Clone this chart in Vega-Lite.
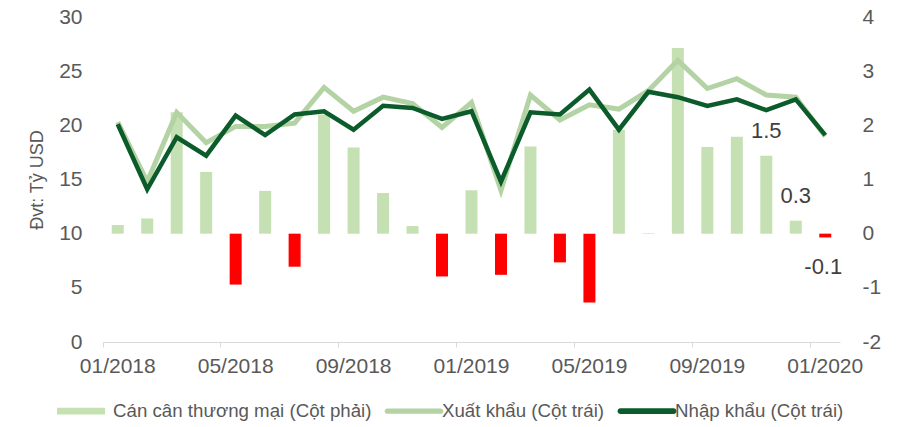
{
  "$schema": "https://vega.github.io/schema/vega-lite/v6.json",
  "width": 737,
  "height": 325,
  "autosize": {"type": "none"},
  "padding": {"left": 103, "top": 17, "right": 57, "bottom": 85},
  "background": "white",
  "config": {
    "font": "Liberation Sans",
    "view": {"stroke": null},
    "axis": {"labelColor": "#595959", "titleColor": "#595959", "labelFont": "Liberation Sans", "titleFont": "Liberation Sans"},
    "legend": {"labelFont": "Liberation Sans"}
  },
  "data": {
    "values": [
      {"month": "2018-01", "ex": 20.3, "im": 20.1, "bal": 0.16},
      {"month": "2018-02", "ex": 14.8, "im": 14.1, "bal": 0.28},
      {"month": "2018-03", "ex": 21.2, "im": 18.9, "bal": 2.24},
      {"month": "2018-04", "ex": 18.4, "im": 17.2, "bal": 1.14},
      {"month": "2018-05", "ex": 19.9, "im": 20.9, "bal": -0.94},
      {"month": "2018-06", "ex": 19.9, "im": 19.1, "bal": 0.79},
      {"month": "2018-07", "ex": 20.2, "im": 21.0, "bal": -0.61},
      {"month": "2018-08", "ex": 23.5, "im": 21.3, "bal": 2.2},
      {"month": "2018-09", "ex": 21.3, "im": 19.6, "bal": 1.59},
      {"month": "2018-10", "ex": 22.6, "im": 21.8, "bal": 0.75},
      {"month": "2018-11", "ex": 22.0, "im": 21.6, "bal": 0.14},
      {"month": "2018-12", "ex": 19.8, "im": 20.6, "bal": -0.79},
      {"month": "2019-01", "ex": 22.1, "im": 21.3, "bal": 0.8},
      {"month": "2019-02", "ex": 14.0, "im": 14.8, "bal": -0.76},
      {"month": "2019-03", "ex": 22.8, "im": 21.2, "bal": 1.61},
      {"month": "2019-04", "ex": 20.5, "im": 21.0, "bal": -0.53},
      {"month": "2019-05", "ex": 21.9, "im": 23.3, "bal": -1.27},
      {"month": "2019-06", "ex": 21.5, "im": 19.6, "bal": 1.92},
      {"month": "2019-07", "ex": 23.2, "im": 23.1, "bal": 0.01},
      {"month": "2019-08", "ex": 26.0, "im": 22.6, "bal": 3.43},
      {"month": "2019-09", "ex": 23.4, "im": 21.8, "bal": 1.6},
      {"month": "2019-10", "ex": 24.3, "im": 22.4, "bal": 1.79},
      {"month": "2019-11", "ex": 22.8, "im": 21.4, "bal": 1.44, "label": "1.5"},
      {"month": "2019-12", "ex": 22.6, "im": 22.4, "bal": 0.24, "label": "0.3"},
      {"month": "2020-01", "ex": 19.0, "im": 19.1, "bal": -0.07, "label": "-0.1"}
    ]
  },
  "encoding": {
    "x": {
      "field": "month",
      "type": "ordinal",
      "scale": {"paddingInner": 0, "paddingOuter": 0},
      "axis": {
        "title": null,
        "values": ["2018-01", "2018-05", "2018-09", "2019-01", "2019-05", "2019-09", "2020-01"],
        "labelExpr": "slice(datum.label,5)+'/'+slice(datum.label,0,4)",
        "labelAngle": 0,
        "bandPosition": 0,
        "labelOffset": 0,
        "labelFontSize": 21,
        "labelPadding": 8,
        "tickSize": 5,
        "tickColor": "#D9D9D9",
        "domainColor": "#D9D9D9",
        "grid": false
      }
    }
  },
  "layer": [
    {
      "encoding": {
        "y": {
          "field": "bal",
          "type": "quantitative",
          "scale": {"domain": [-2, 4], "nice": false, "zero": false},
          "axis": {
            "orient": "right",
            "title": null,
            "values": [-2, -1, 0, 1, 2, 3, 4],
            "labelExpr": "'' + datum.value",
            "labelFontSize": 21,
            "labelPadding": 22,
            "ticks": false,
            "domain": false,
            "grid": false
          }
        }
      },
      "layer": [
        {
          "mark": {"type": "bar", "width": 12},
          "encoding": {
            "y2": {"datum": 0},
            "color": {
              "condition": {"test": "datum.bal < 0", "value": "#FF0000"},
              "value": "#C5E0B3"
            }
          }
        },
        {
          "transform": [{"filter": "isValid(datum.label) && datum.bal >= 0"}],
          "mark": {"type": "text", "fontSize": 22, "color": "#404040", "baseline": "middle", "dy": -25},
          "encoding": {"text": {"field": "label"}}
        },
        {
          "transform": [{"filter": "isValid(datum.label) && datum.bal < 0"}],
          "mark": {"type": "text", "fontSize": 22, "color": "#404040", "baseline": "middle", "dy": 30, "dx": -2},
          "encoding": {"text": {"field": "label"}}
        }
      ]
    },
    {
      "layer": [
        {
          "mark": {"type": "line", "color": "#B4D3A4", "strokeWidth": 5},
          "encoding": {
            "y": {
              "field": "ex",
              "type": "quantitative",
              "scale": {"domain": [0, 30], "nice": false},
              "axis": {
                "title": "Đvt: Tỷ USD",
                "titleFontSize": 18,
                "titleFontWeight": "normal",
                "titlePadding": 12,
                "values": [0, 5, 10, 15, 20, 25, 30],
                "labelFontSize": 21,
                "labelPadding": 21,
                "ticks": false,
                "domain": false,
                "gridColor": "#E6E6E6",
                "gridWidth": 1.3
              }
            }
          }
        },
        {
          "mark": {"type": "line", "color": "#0B5B2B", "strokeWidth": 4.5},
          "encoding": {"y": {"field": "im", "type": "quantitative"}}
        },
        {
          "transform": [{"filter": "datum.bal > 100"}],
          "mark": {"type": "point", "filled": true, "opacity": 1},
          "encoding": {
            "y": {"field": "im", "type": "quantitative"},
            "color": {
              "field": "series",
              "type": "nominal",
              "scale": {
                "domain": ["Cán cân thương mại (Cột phải)", "Xuất khẩu (Cột trái)", "Nhập khẩu (Cột trái)"],
                "range": ["#C5E0B3", "#B4D3A4", "#0B5B2B"]
              },
              "legend": {
                "title": null,
                "orient": "none",
                "legendX": -46,
                "legendY": 366,
                "direction": "horizontal",
                "columns": 3,
                "columnPadding": 12,
                "labelFontSize": 18.7,
                "labelLimit": 500,
                "labelColor": "#595959",
                "labelOffset": 0,
                "symbolSize": 3136,
                "symbolStrokeWidth": 0
              }
            },
            "shape": {
              "field": "series",
              "type": "nominal",
              "scale": {
                "domain": ["Cán cân thương mại (Cột phải)", "Xuất khẩu (Cột trái)", "Nhập khẩu (Cột trái)"],
                "range": ["M-1,-0.12H0.714V0.12H-1Z", "M-0.95,-0.095H0.95A0.095,0.095 0 0 1 0.95,0.095H-0.95A0.095,0.095 0 0 1 -0.95,-0.095Z", "M-0.95,-0.1H0.95A0.1,0.1 0 0 1 0.95,0.1H-0.95A0.1,0.1 0 0 1 -0.95,-0.1Z"]
              },
              "legend": null
            }
          }
        }
      ]
    }
  ],
  "resolve": {"scale": {"y": "independent"}}
}
